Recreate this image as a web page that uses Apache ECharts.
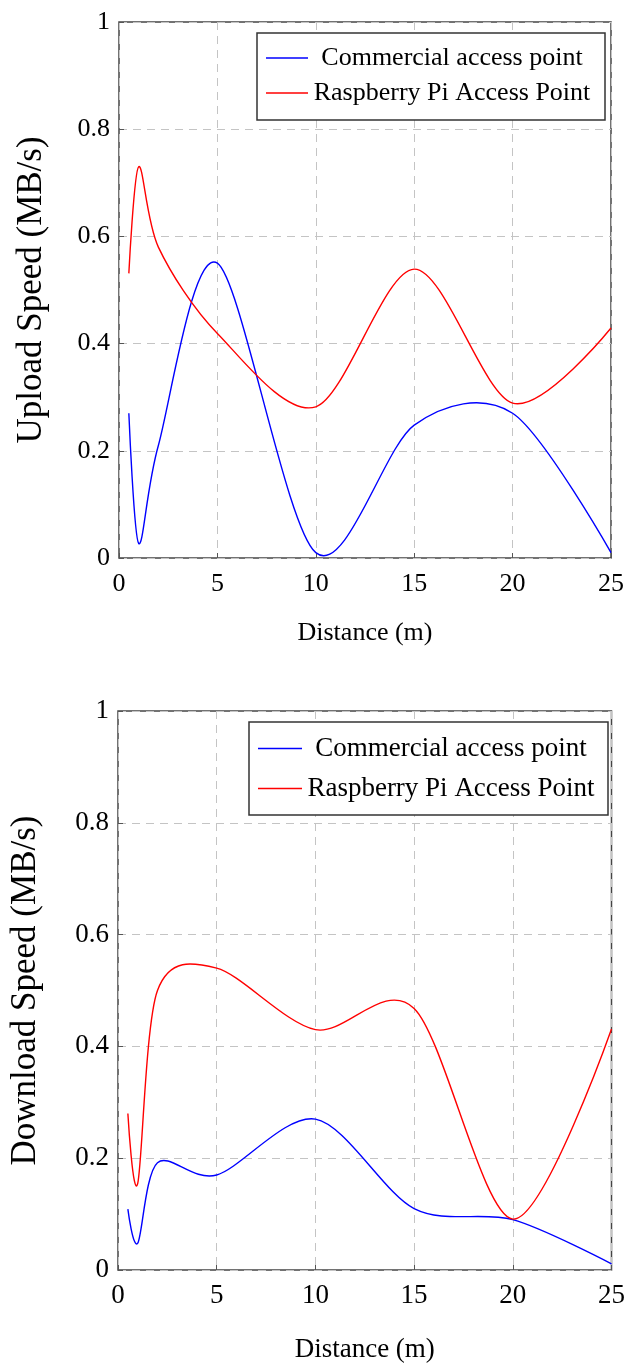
<!DOCTYPE html>
<html>
<head>
<meta charset="utf-8">
<script src="https://cdn.jsdelivr.net/npm/echarts@6/dist/echarts.min.js"></script>
<style>
  html, body { margin: 0; padding: 0; background: #fff; }
  #chart { width: 628px; height: 1364px; }
</style>
</head>
<body>
<div id="chart"></div>
<script>
// ---------- data ----------
const seriesNames = ['Commercial access point', 'Raspberry Pi Access Point'];
const xAxisTitle = 'Distance (m)';
const yTitleUpload = 'Upload Speed (MB/s)';
const yTitleDownload = 'Download Speed (MB/s)';

// measurement distances (m)
const distances = [0.5, 1, 2, 5, 10, 15, 20, 25];

// Upload speed (MB/s)
const uploadCommercial = [0.27, 0.027, 0.21, 0.55, 0.01, 0.248, 0.27, 0.01];
const uploadRaspberry  = [0.531, 0.73, 0.58, 0.419, 0.282, 0.539, 0.289, 0.429];

// Download speed (MB/s)
const downloadCommercial = [0.109, 0.048, 0.192, 0.17, 0.27, 0.11, 0.09, 0.011];
const downloadRaspberry  = [0.28, 0.155, 0.50, 0.54, 0.43, 0.468, 0.091, 0.431];

const xMin = 0, xMax = 25, xStep = 5;
const yMin = 0, yMax = 1, yStep = 0.2;

// ---------- helpers ----------
const zip = (xs, ys) => xs.map((x, i) => [x, ys[i]]);
const FONT = '"Liberation Serif", "Times New Roman", serif';
const BLUE = '#0000ff', RED = '#ff0000';
const TENSION = 0.2775 * 0.55; // pgfplots "smooth" curve tension

function xAxisCfg(gridIndex, fontSize, nameGap, margin) {
  return {
    type: 'value', gridIndex, min: xMin, max: xMax, interval: xStep,
    name: xAxisTitle, nameLocation: 'middle', nameGap,
    nameTextStyle: { fontFamily: FONT, fontSize, color: '#000' },
    axisLine: { show: false },
    axisTick: { show: true, inside: true, length: 5, lineStyle: { color: '#555', width: 1 } },
    axisLabel: { fontFamily: FONT, fontSize, color: '#000', margin },
    splitLine: { show: true, lineStyle: { color: '#c4c4c4', width: 1, type: [8, 6] } }
  };
}
function yAxisCfg(gridIndex, name, fontSize, nameSize, nameGap) {
  return {
    type: 'value', gridIndex, min: yMin, max: yMax, interval: yStep,
    name, nameLocation: 'middle', nameGap,
    nameTextStyle: { fontFamily: FONT, fontSize: nameSize, color: '#000' },
    axisLine: { show: false },
    axisTick: { show: true, inside: true, length: 5, lineStyle: { color: '#555', width: 1 } },
    axisLabel: { fontFamily: FONT, fontSize, color: '#000', margin: 9 },
    splitLine: { show: true, lineStyle: { color: '#c4c4c4', width: 1, type: [8, 6] } }
  };
}
function legendCfg(left, top, padding, itemGap, itemWidth, textWidth, fontSize) {
  return {
    orient: 'vertical', left, top, padding, itemGap, itemWidth, itemHeight: 1.6,
    icon: 'rect',
    data: seriesNames,
    backgroundColor: '#fff', borderColor: '#333', borderWidth: 1.5, borderRadius: 0,
    selectedMode: false,
    formatter: n => '{a|' + n + '}',
    textStyle: {
      fontFamily: FONT, fontSize, color: '#000',
      rich: { a: { width: textWidth, align: 'center', fontFamily: FONT, fontSize, lineHeight: 30, color: '#000' } }
    }
  };
}

// smooth curve through the data points (same construction as pgfplots' "smooth")
function smoothCurve(color) {
  return function (params, api) {
    if (params.dataIndexInside !== 0) return null;
    const n = params.dataInsideLength;
    const p = [];
    for (let i = 0; i < n; i++) p.push(api.coord([api.value(0, i), api.value(1, i)]));
    let d = 'M' + p[0][0] + ' ' + p[0][1];
    for (let i = 1; i < n; i++) {
      const a = p[i - 1], b = p[i];
      let c1 = a, c2 = b;
      if (i - 1 > 0) c1 = [a[0] + TENSION * (b[0] - p[i - 2][0]), a[1] + TENSION * (b[1] - p[i - 2][1])];
      if (i < n - 1) c2 = [b[0] - TENSION * (p[i + 1][0] - a[0]), b[1] - TENSION * (p[i + 1][1] - a[1])];
      d += ' C' + c1[0] + ' ' + c1[1] + ' ' + c2[0] + ' ' + c2[1] + ' ' + b[0] + ' ' + b[1];
    }
    return {
      type: 'path',
      shape: { pathData: d },
      style: { stroke: color, fill: 'none', lineWidth: 1.4, lineJoin: 'round' }
    };
  };
}
function curveSeries(name, idx, data, color) {
  return {
    name, type: 'custom', xAxisIndex: idx, yAxisIndex: idx,
    data, encode: { x: 0, y: 1 },
    renderItem: smoothCurve(color),
    itemStyle: { color },
    silent: true, animation: false, z: 3
  };
}

const chart = echarts.init(document.getElementById('chart'), null, { renderer: 'canvas' });
chart.setOption({
  backgroundColor: '#fff',
  animation: false,
  grid: [
    { left: 119, top: 22, width: 492, height: 536, show: true, borderColor: '#444', borderWidth: 1.5, backgroundColor: 'transparent' },
    { left: 107, top: 711, width: 506, height: 561, show: true, borderColor: '#444', borderWidth: 1.5, backgroundColor: 'transparent' }
  ],
  xAxis: [ xAxisCfg(0, 26, 62, 13), xAxisCfg(1, 27, 66, 12) ],
  yAxis: [ yAxisCfg(0, yTitleUpload, 26, 35, 70), yAxisCfg(1, yTitleDownload, 27, 35, 75) ],
  legend: [
    legendCfg(257, 33, [12, 14, 14, 9], 9, 42, 278, 26),
    legendCfg(249, 722, [13, 13, 13, 9], 13, 44, 288, 27)
  ],
  series: [
    curveSeries(seriesNames[0], 0, zip(distances, uploadCommercial), BLUE),
    curveSeries(seriesNames[1], 0, zip(distances, uploadRaspberry), RED),
    curveSeries(seriesNames[0], 1, zip(distances, downloadCommercial), BLUE),
    curveSeries(seriesNames[1], 1, zip(distances, downloadRaspberry), RED)
  ]
});
</script>
</body>
</html>
